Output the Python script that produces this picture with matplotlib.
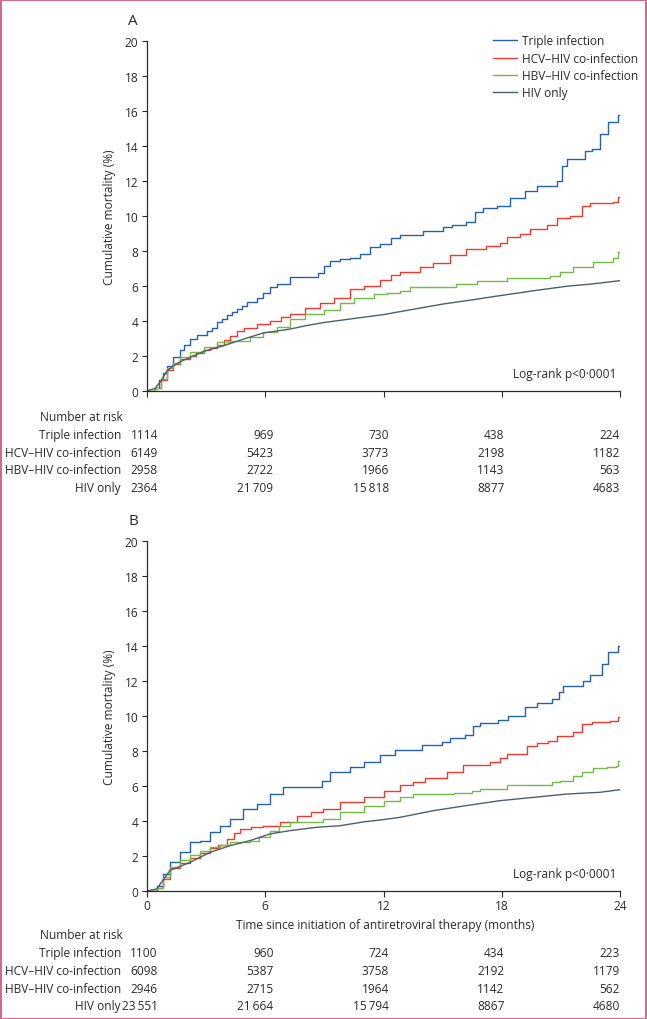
import numpy as np
import matplotlib
matplotlib.use('Agg')
import matplotlib.pyplot as plt
from matplotlib import transforms
from matplotlib.patches import Rectangle

plt.rcParams['font.family'] = ['Open Sans', 'DejaVu Sans']

W, H = 647, 1020
INK = '#2b2b2b'
FS = 8.6

groups = ['Triple infection', 'HCV–HIV co-infection', 'HBV–HIV co-infection', 'HIV only']
colors = ['#2461aa', '#ec3b31', '#72bb46', '#4c5f70']

# --- panel A: cumulative mortality (%) ---
a_triple_t = [0, 0.4, 0.6, 0.8, 1.0, 1.3, 1.67, 1.9, 2.18, 2.52, 3.03, 3.3, 3.55, 3.8, 4.06, 4.3, 4.55,
              4.8, 5.06, 5.57, 5.9, 6.24, 6.58, 7.25, 8.7, 9.0, 9.3, 9.8, 10.3, 10.8, 11.3, 11.8, 12.4,
              12.84, 14.02, 15.03, 15.5, 16.2, 16.64, 17.06, 17.74, 18.42, 19.18, 19.77, 20.78, 21.04,
              21.3, 22.22, 22.56, 22.98, 23.4, 23.9, 24]
a_triple_v = [0, 0.15, 0.6, 1.0, 1.4, 1.9, 2.35, 2.6, 2.95, 3.2, 3.4, 3.6, 3.9, 4.1, 4.3, 4.5, 4.65,
              4.85, 5.05, 5.3, 5.6, 5.9, 6.1, 6.5, 6.75, 7.1, 7.4, 7.5, 7.6, 7.8, 8.2, 8.4, 8.7,
              8.9, 9.14, 9.34, 9.47, 9.66, 10.23, 10.42, 10.57, 11.01, 11.43, 11.68, 12.0, 12.86,
              13.24, 13.71, 13.81, 14.67, 15.37, 15.75, 15.75]

a_hcv_t = [0, 0.4, 0.7, 1.0, 1.3, 1.67, 2.18, 2.5, 2.87, 3.2, 3.55, 3.9, 4.21, 4.55, 4.9, 5.57, 6.24,
           6.8, 7.25, 8.0, 8.8, 9.5, 10.3, 11.0, 11.8, 12.4, 12.84, 13.85, 14.53, 15.37, 16.2, 17.2,
           17.9, 18.25, 18.92, 19.43, 20.28, 20.78, 21.46, 22.05, 22.48, 23.66, 23.9, 24]
a_hcv_v = [0, 0.15, 0.6, 1.2, 1.5, 1.8, 2.0, 2.15, 2.3, 2.45, 2.6, 2.9, 3.15, 3.4, 3.6, 3.8, 4.0,
           4.2, 4.4, 4.7, 5.0, 5.3, 5.8, 6.0, 6.3, 6.6, 6.77, 7.05, 7.3, 7.75, 8.1, 8.25,
           8.44, 8.77, 8.95, 9.24, 9.47, 9.85, 10.0, 10.57, 10.71, 10.77, 11.05, 11.05]

a_hbv_t = [0, 0.4, 0.7, 1.0, 1.3, 1.67, 2.18, 2.87, 3.55, 4.21, 5.23, 5.9, 6.58, 7.25, 8.0, 9.0, 9.8,
           10.5, 11.5, 12.2, 12.84, 13.34, 15.7, 16.73, 18.25, 20.45, 20.96, 21.63, 22.65, 23.66,
           23.9, 24]
a_hbv_v = [0, 0.15, 0.65, 1.3, 1.6, 1.9, 2.19, 2.48, 2.76, 2.86, 3.05, 3.33, 3.62, 4.1, 4.4, 4.6, 5.0,
           5.3, 5.5, 5.6, 5.71, 5.9, 6.1, 6.29, 6.44, 6.57, 6.77, 7.05, 7.37, 7.57,
           7.9, 7.9]

a_hiv_t = [0, 0.4, 0.7, 1.0, 1.3, 1.67, 2.18, 2.87, 3.89, 4.9, 5.9, 7.25, 8.0, 9.0, 10.0, 11.0, 12.0,
           13.0, 14.0, 15.0, 16.56, 17.9, 19.6, 21.3, 22.6, 24]
a_hiv_v = [0, 0.12, 0.55, 1.1, 1.4, 1.65, 1.9, 2.25, 2.57, 2.95, 3.3, 3.52, 3.7, 3.9, 4.05, 4.2, 4.35,
           4.55, 4.75, 4.95, 5.2, 5.43, 5.71, 5.97, 6.1, 6.29]

# --- panel B ---
b_triple_t = [0, 0.49, 0.8, 1.17, 1.67, 2.18, 2.69, 3.2, 3.7, 4.21, 4.89, 5.57, 6.24, 6.92, 8.9, 9.28,
              10.3, 11.0, 11.8, 12.6, 13.94, 14.95, 15.37, 16.13, 16.56, 16.9, 17.82, 18.33, 19.18,
              19.77, 20.53, 20.92, 21.12, 22.14, 22.48, 23.07, 23.4, 23.9, 24]
b_triple_v = [0, 0.3, 1.0, 1.64, 2.21, 2.78, 2.88, 3.35, 3.73, 4.11, 4.69, 4.97, 5.54, 5.92, 6.3, 6.78,
              7.1, 7.4, 7.8, 8.05, 8.34, 8.53, 8.72, 8.91, 9.41, 9.6, 9.79, 10.02, 10.5,
              10.74, 10.97, 11.39, 11.73, 12.02, 12.34, 12.97, 13.64, 14.02, 14.02]

b_hcv_t = [0, 0.49, 0.8, 1.17, 1.67, 2.18, 2.7, 3.2, 3.6, 4.04, 4.4, 4.72, 5.3, 5.9, 6.75, 7.6, 8.3,
           8.95, 9.79, 11.0, 12.0, 12.84, 13.51, 14.1, 15.2, 16.05, 17.4, 17.9, 18.25, 19.26, 19.77,
           20.36, 20.78, 21.63, 22.05, 22.56, 23.49, 23.9, 24]
b_hcv_v = [0, 0.15, 0.7, 1.3, 1.6, 1.9, 2.2, 2.45, 2.65, 2.97, 3.3, 3.54, 3.65, 3.73, 3.92, 4.3, 4.5,
           4.69, 5.07, 5.4, 5.7, 6.08, 6.21, 6.44, 6.78, 7.2, 7.35, 7.58, 7.83, 8.27, 8.46,
           8.59, 8.84, 9.07, 9.54, 9.67, 9.73, 9.92, 9.92]

b_hbv_t = [0, 0.49, 0.8, 1.17, 1.67, 2.18, 2.7, 3.2, 3.7, 4.21, 5.23, 5.7, 6.24, 6.7, 7.25, 8.95, 9.79,
           11.0, 12.0, 12.84, 13.5, 15.6, 16.47, 16.9, 18.25, 20.53, 20.96, 21.63, 22.05, 22.65,
           23.32, 23.8, 23.9, 24]
b_hbv_v = [0, 0.15, 0.8, 1.37, 1.75, 2.04, 2.3, 2.5, 2.65, 2.78, 2.88, 3.1, 3.45, 3.7, 3.92, 4.11, 4.5,
           4.85, 5.15, 5.35, 5.52, 5.62, 5.73, 5.83, 6.06, 6.25, 6.3, 6.59, 6.78, 7.01,
           7.07, 7.16, 7.45, 7.45]

b_hiv_t = [0, 0.49, 0.8, 1.17, 1.67, 2.18, 3.2, 4.21, 5.23, 6.24, 7.25, 8.61, 9.79, 11.0, 12.0, 12.84,
           14.53, 16.2, 17.9, 19.6, 21.3, 22.98, 24]
b_hiv_v = [0, 0.12, 0.6, 1.18, 1.4, 1.64, 2.21, 2.59, 2.88, 3.26, 3.45, 3.64, 3.73, 3.95, 4.08, 4.21,
           4.59, 4.88, 5.16, 5.35, 5.54, 5.64, 5.79]

risk_times = [0, 6, 12, 18, 24]
risk_a = [[1114, 969, 730, 438, 224],
          [6149, 5423, 3773, 2198, 1182],
          [2958, 2722, 1966, 1143, 563],
          [2364, 21709, 15818, 8877, 4683]]
risk_b = [[1100, 960, 724, 434, 223],
          [6098, 5387, 3758, 2192, 1179],
          [2946, 2715, 1964, 1142, 562],
          [23551, 21664, 15794, 8867, 4680]]


def fmt(n):
    return f"{n:,}".replace(',', '\u2009') if n >= 10000 else str(n)


fig = plt.figure(figsize=(W / 100, H / 100), dpi=100)


def px_axes(left, top, right, bottom):
    return fig.add_axes([left / W, 1 - bottom / H, (right - left) / W, (bottom - top) / H])


def draw_panel(ax, curves, risk, letter, y0, y20, show_xlabels):
    for (t, v), c, g in zip(curves, colors, groups):
        # HIV-only steps are too small to see, so draw it as a plain line
        ds = 'default' if g == 'HIV only' else 'steps-post'
        ax.plot(t, v, drawstyle=ds, color=c, lw=1.0, label=g)
    ax.set_xlim(0, 24)
    ax.set_ylim(0, 20)
    ax.set_xticks(risk_times)
    ax.set_yticks(np.arange(0, 21, 2))
    for s in ['top', 'right']:
        ax.spines[s].set_visible(False)
    for s in ['left', 'bottom']:
        ax.spines[s].set_color(INK)
        ax.spines[s].set_linewidth(0.9)
    ax.tick_params(axis='y', direction='out', length=3.6, width=0.8, color=INK,
                   labelsize=FS, labelcolor=INK, pad=2.5)
    ax.tick_params(axis='x', direction='out', length=4, width=0.8, color=INK,
                   labelsize=FS, labelcolor=INK, pad=1.5, labelbottom=show_xlabels)

    fig.text(133 / W, 1 - (y20 - 20) / H, letter, ha='center', va='center',
             fontsize=11, color=INK)
    fig.text(109 / W, 1 - (y0 + y20) / 2 / H, 'Cumulative mortality (%)', rotation=90,
             ha='center', va='center', fontsize=FS, color=INK)
    fig.text(616 / W, 1 - (y0 - 17.5) / H, 'Log-rank p<0\u00b70001', ha='right',
             va='center', fontsize=FS, color=INK)

    # number at risk table
    tr = transforms.blended_transform_factory(ax.transData, fig.transFigure)
    row0 = y0 + (44 if show_xlabels else 26)
    fig.text(123 / W, 1 - row0 / H, 'Number at risk', ha='right', va='center',
             fontsize=FS, color=INK)
    cols = np.linspace(0.55, 24, len(risk_times))
    for i, (g, row) in enumerate(zip(groups, risk)):
        yy = 1 - (row0 + 17.7 * (i + 1)) / H
        fig.text(121 / W, yy, g, ha='right', va='center', fontsize=FS, color=INK)
        for xc, n in zip(cols, row):
            ax.text(xc, yy, fmt(n), transform=tr, ha='right', va='center',
                    fontsize=FS, color=INK, clip_on=False)


ax_a = px_axes(147, 41.7, 620, 391.7)
draw_panel(ax_a, [(a_triple_t, a_triple_v), (a_hcv_t, a_hcv_v), (a_hbv_t, a_hbv_v), (a_hiv_t, a_hiv_v)],
           risk_a, 'A', 391.7, 41.7, False)
ax_a.legend(loc='upper left', bbox_to_anchor=(493 / W, 1 - 35.5 / H), bbox_transform=fig.transFigure,
            frameon=False, fontsize=FS, handlelength=2.0, handletextpad=0.4,
            labelspacing=0.36, borderpad=0, borderaxespad=0, labelcolor=INK)

ax_b = px_axes(147, 542, 620, 892)
draw_panel(ax_b, [(b_triple_t, b_triple_v), (b_hcv_t, b_hcv_v), (b_hbv_t, b_hbv_v), (b_hiv_t, b_hiv_v)],
           risk_b, 'B', 892, 542, True)
fig.text(385 / W, 1 - 926 / H, 'Time since initiation of antiretroviral therapy (months)',
         ha='center', va='center', fontsize=FS, color=INK)

fig.patches.append(Rectangle((0.5 / W, 0.5 / H), 1 - 1.5 / W, 1 - 1.5 / H, transform=fig.transFigure,
                             fill=False, edgecolor='#d36a8f', lw=1.5))

fig.savefig('out.png', dpi=100)
